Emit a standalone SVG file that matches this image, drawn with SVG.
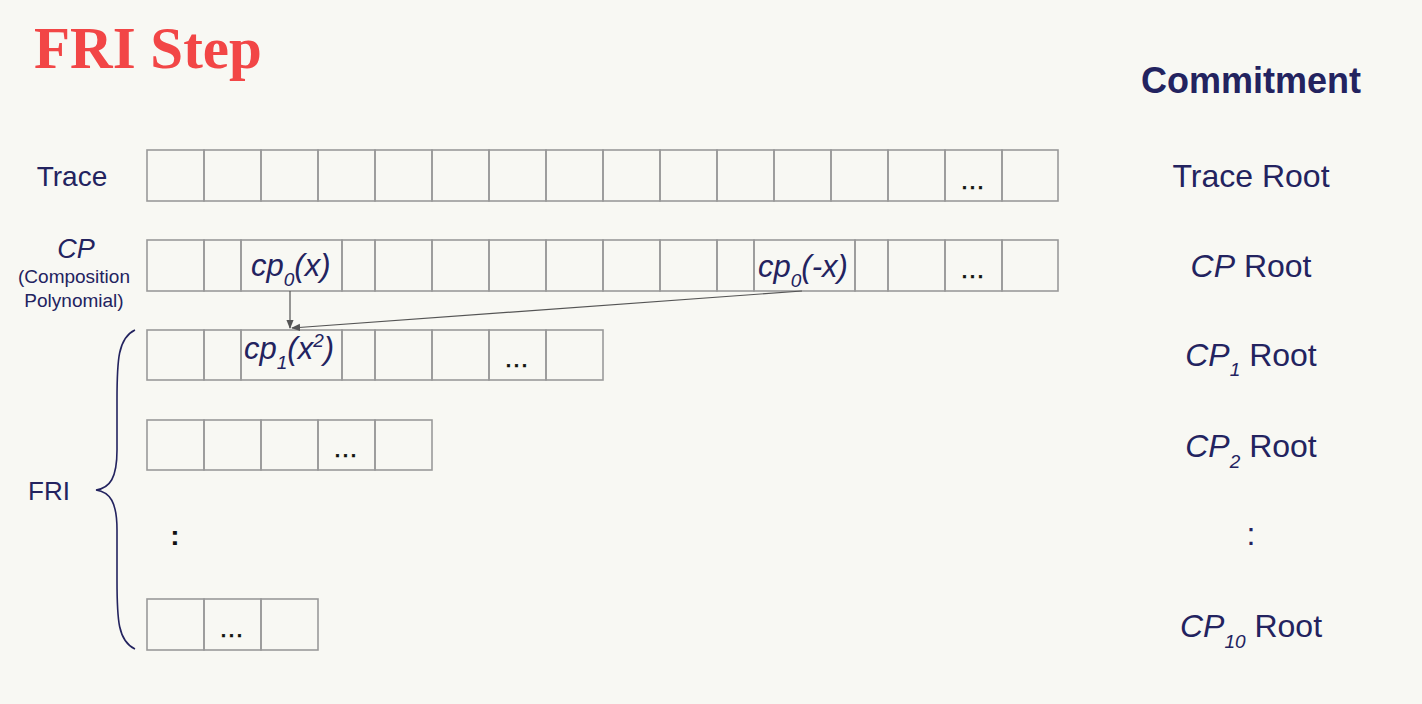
<svg xmlns="http://www.w3.org/2000/svg" width="1422" height="704" viewBox="0 0 1422 704">
<defs>
<style>
.bg{fill:#f8f8f3}
.c{fill:none;stroke:#9a9a9a;stroke-width:1.6}
.t{font-family:"Liberation Sans",Arial,sans-serif;fill:#23235f}
.i{font-style:italic}
.d{font-family:"Liberation Sans",Arial,sans-serif;fill:#111;font-size:25px;letter-spacing:1px;text-anchor:middle;stroke:#111;stroke-width:0.6}
.conn{stroke:#555;stroke-width:1.2;fill:none}
</style>
<marker id="ah" viewBox="0 0 10 10" refX="9" refY="5" markerWidth="9" markerHeight="9" markerUnits="userSpaceOnUse" orient="auto">
<path d="M0,1 L10,5 L0,9 z" fill="#555"/>
</marker>
</defs>
<rect class="bg" x="0" y="0" width="1422" height="704"/>
<text id="title" x="34" y="68" font-family="'Liberation Serif','DejaVu Serif',serif" font-weight="bold" font-size="59" fill="#f24646">FRI Step</text>
<text class="t" x="1251" y="93" font-size="36" font-weight="bold" text-anchor="middle">Commitment</text>

<g id="trace-row">
<text class="t" x="72" y="186" font-size="28" text-anchor="middle">Trace</text>
<g>
<rect class="c" x="147" y="150" width="57" height="51"/><rect class="c" x="204" y="150" width="57" height="51"/><rect class="c" x="261" y="150" width="57" height="51"/><rect class="c" x="318" y="150" width="57" height="51"/><rect class="c" x="375" y="150" width="57" height="51"/><rect class="c" x="432" y="150" width="57" height="51"/><rect class="c" x="489" y="150" width="57" height="51"/><rect class="c" x="546" y="150" width="57" height="51"/><rect class="c" x="603" y="150" width="57" height="51"/><rect class="c" x="660" y="150" width="57" height="51"/><rect class="c" x="717" y="150" width="57" height="51"/><rect class="c" x="774" y="150" width="57" height="51"/><rect class="c" x="831" y="150" width="57" height="51"/><rect class="c" x="888" y="150" width="57" height="51"/><rect class="c" x="945" y="150" width="57" height="51"/><rect class="c" x="1002" y="150" width="56" height="51"/>
</g>
<text class="d" x="973" y="189">...</text>
<text class="t" x="1251" y="187" font-size="32" text-anchor="middle">Trace Root</text>
</g>

<g id="cp-row">
<text class="t i" x="76" y="258" font-size="27" text-anchor="middle">CP</text>
<text class="t" x="74" y="283" font-size="19" text-anchor="middle">(Composition</text>
<text class="t" x="74" y="307" font-size="19" text-anchor="middle">Polynomial)</text>
<g>
<rect class="c" x="147" y="240" width="57" height="51"/><rect class="c" x="204" y="240" width="37" height="51"/><rect class="c" x="241" y="240" width="101" height="51"/><rect class="c" x="342" y="240" width="33" height="51"/><rect class="c" x="375" y="240" width="57" height="51"/><rect class="c" x="432" y="240" width="57" height="51"/><rect class="c" x="489" y="240" width="57" height="51"/><rect class="c" x="546" y="240" width="57" height="51"/><rect class="c" x="603" y="240" width="57" height="51"/><rect class="c" x="660" y="240" width="57" height="51"/><rect class="c" x="717" y="240" width="37" height="51"/><rect class="c" x="754" y="240" width="101" height="51"/><rect class="c" x="855" y="240" width="33" height="51"/><rect class="c" x="888" y="240" width="57" height="51"/><rect class="c" x="945" y="240" width="57" height="51"/><rect class="c" x="1002" y="240" width="56" height="51"/>
</g>
<text class="t i" x="251" y="276" font-size="31">cp<tspan font-size="19" dy="10">0</tspan><tspan dy="-10">(x)</tspan></text>
<text class="t i" x="758" y="277" font-size="31">cp<tspan font-size="19" dy="10">0</tspan><tspan dy="-10">(-x)</tspan></text>
<text class="d" x="973" y="278">...</text>
<text class="t" x="1251" y="277" font-size="32" text-anchor="middle"><tspan class="i">CP</tspan> Root</text>
</g>

<g id="cp1-row">
<g>
<rect class="c" x="147" y="330" width="57" height="50"/><rect class="c" x="204" y="330" width="37" height="50"/><rect class="c" x="241" y="330" width="101" height="50"/><rect class="c" x="342" y="330" width="33" height="50"/><rect class="c" x="375" y="330" width="57" height="50"/><rect class="c" x="432" y="330" width="57" height="50"/><rect class="c" x="489" y="330" width="57" height="50"/><rect class="c" x="546" y="330" width="57" height="50"/>
</g>
<text class="t i" x="244" y="359" font-size="31">cp<tspan font-size="19" dy="10">1</tspan><tspan dy="-10">(x</tspan><tspan font-size="19" dy="-12">2</tspan><tspan dy="12">)</tspan></text>
<text class="d" x="517" y="367">...</text>
<text class="t" x="1251" y="366" font-size="32" text-anchor="middle"><tspan class="i">CP</tspan><tspan class="i" font-size="19" dy="10">1</tspan><tspan dy="-10"> Root</tspan></text>
</g>

<g id="cp2-row">
<g>
<rect class="c" x="147" y="420" width="57" height="50"/><rect class="c" x="204" y="420" width="57" height="50"/><rect class="c" x="261" y="420" width="57" height="50"/><rect class="c" x="318" y="420" width="57" height="50"/><rect class="c" x="375" y="420" width="57" height="50"/>
</g>
<text class="d" x="346" y="457">...</text>
<text class="t" x="1251" y="457" font-size="32" text-anchor="middle"><tspan class="i">CP</tspan><tspan class="i" font-size="19" dy="11">2</tspan><tspan dy="-11"> Root</tspan></text>
</g>

<g id="ellipsis">
<text x="175" y="545" font-family="'Liberation Sans',Arial,sans-serif" font-size="28" font-weight="bold" fill="#111" text-anchor="middle">:</text>
<text class="t" x="1251" y="545" font-size="32" text-anchor="middle">:</text>
</g>

<g id="cp10-row">
<g>
<rect class="c" x="147" y="599" width="57" height="51"/><rect class="c" x="204" y="599" width="57" height="51"/><rect class="c" x="261" y="599" width="57" height="51"/>
</g>
<text class="d" x="232" y="637">...</text>
<text class="t" x="1251" y="637" font-size="32" text-anchor="middle"><tspan class="i">CP</tspan><tspan class="i" font-size="19" dy="11">10</tspan><tspan dy="-11"> Root</tspan></text>
</g>

<g id="fri-group">
<text class="t" x="49" y="500" font-size="26" text-anchor="middle">FRI</text>
<path d="M135,330 C118,338 117,360 117,400 L117,450 C117,478 110,488 96,490 C110,492 117,502 117,530 L117,580 C117,620 118,641 135,649" fill="none" stroke="#23235f" stroke-width="1.6"/>
</g>

<g id="connectors">
<line class="conn" x1="290" y1="291" x2="290" y2="328" marker-end="url(#ah)"/>
<line class="conn" x1="802" y1="291" x2="292" y2="328" marker-end="url(#ah)"/>
</g>
</svg>
